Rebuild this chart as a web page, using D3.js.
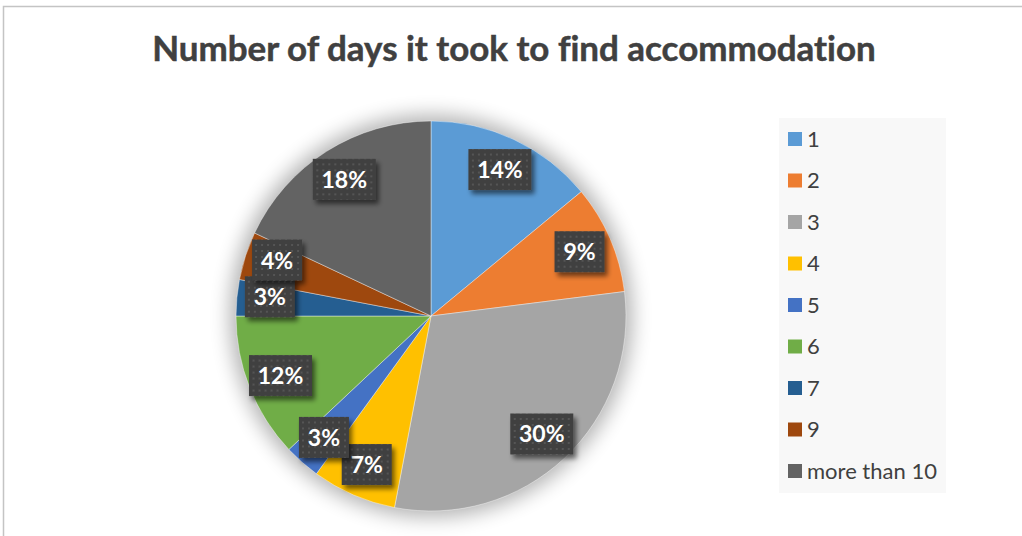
<!DOCTYPE html>
<html>
<head>
<meta charset="utf-8">
<script src="https://cdn.jsdelivr.net/npm/d3@7"></script>
<style>
  html, body { margin: 0; padding: 0; background: #fff; }
  svg { display: block; }
  text { font-variant-ligatures: none; font-feature-settings: "liga" 0; }
</style>
</head>
<body>
<div id="chart"></div>
<script>
// data
var categories = ["1", "2", "3", "4", "5", "6", "7", "9", "more than 10"];
var shares = [14, 9, 30, 7, 3, 12, 3, 4, 18];
var colors = ["#5B9BD5", "#ED7D31", "#A5A5A5", "#FFC000", "#4472C4", "#70AD47", "#255E91", "#9E480E", "#636363"];
var title = "Number of days it took to find accommodation";

var width = 1022, height = 536;
var cx = 431, cy = 316, radius = 195;

var svg = d3.select("#chart").append("svg")
  .attr("width", width)
  .attr("height", height);

var defs = svg.append("defs");

// soft glow behind the pie
var glow = defs.append("filter").attr("id", "glow")
  .attr("x", "-25%").attr("y", "-25%").attr("width", "150%").attr("height", "150%");
glow.append("feGaussianBlur").attr("stdDeviation", 10);

// drop shadow for the label boxes
var shadow = defs.append("filter").attr("id", "boxShadow")
  .attr("x", "-20%").attr("y", "-20%").attr("width", "150%").attr("height", "160%");
shadow.append("feGaussianBlur").attr("in", "SourceAlpha").attr("stdDeviation", 2.5).attr("result", "b");
shadow.append("feOffset").attr("in", "b").attr("dx", 3).attr("dy", 4).attr("result", "o");
shadow.append("feComponentTransfer").attr("in", "o").attr("result", "s")
  .append("feFuncA").attr("type", "linear").attr("slope", 0.55);
var merge = shadow.append("feMerge");
merge.append("feMergeNode").attr("in", "s");
merge.append("feMergeNode").attr("in", "SourceGraphic");

// dotted texture on the label boxes
var pat = defs.append("pattern").attr("id", "dots")
  .attr("width", 6).attr("height", 6).attr("patternUnits", "userSpaceOnUse");
pat.append("rect").attr("width", 6).attr("height", 6).attr("fill", "#404040");
pat.append("rect").attr("x", 2).attr("y", 2).attr("width", 2).attr("height", 2).attr("fill", "#555555");

// chart frame
svg.append("path")
  .attr("d", "M3.5," + height + "V6.5H" + width)
  .attr("fill", "none")
  .attr("stroke", "#c4c4c4")
  .attr("stroke-width", 1.5);

// title
var titleText = svg.append("text")
  .attr("x", 514)
  .attr("y", 61)
  .attr("text-anchor", "middle")
  .attr("font-family", "Lato, 'Open Sans', sans-serif")
  .attr("font-weight", "bold")
  .attr("font-size", 30)
  .attr("fill", "#404040")
  .attr("stroke", "#404040")
  .attr("stroke-width", 0.5)
  .text(title);
var tw = titleText.node().getComputedTextLength();
titleText.attr("font-size", 30 * 724 / tw);

// pie
var pie = d3.pie().sort(null).value(function (d) { return d; });
var arcs = pie(shares);
var arc = d3.arc().innerRadius(0).outerRadius(radius);
var labelArc = d3.arc().innerRadius(radius * 0.83).outerRadius(radius * 0.83);
var color = d3.scaleOrdinal().domain(categories).range(colors);

var g = svg.append("g").attr("transform", "translate(" + cx + "," + cy + ")");

g.append("circle")
  .attr("r", radius + 6)
  .attr("fill", "#000")
  .attr("opacity", 0.3)
  .attr("filter", "url(#glow)");

g.selectAll("path.slice")
  .data(arcs)
  .join("path")
  .attr("class", "slice")
  .attr("d", arc)
  .attr("fill", function (d, i) { return color(categories[i]); })
  .attr("stroke", "#ffffff")
  .attr("stroke-opacity", 0.5)
  .attr("stroke-width", 0.8);

// data labels
var labels = g.selectAll("g.lbl")
  .data(arcs)
  .join("g")
  .attr("class", "lbl")
  .attr("transform", function (d, i) {
    var c = labelArc.centroid(d);
    // Excel nudges the two crowded labels apart
    if (categories[i] === "9") c[1] -= 6;
    if (categories[i] === "7") c[1] -= 4;
    return "translate(" + c[0] + "," + c[1] + ")";
  });

labels.each(function (d) {
  var sel = d3.select(this);
  var txt = d.data + "%";
  var w = txt.length === 3 ? 63 : 50;
  var h = 41;
  sel.append("rect")
    .attr("x", -w / 2)
    .attr("y", -h / 2)
    .attr("width", w)
    .attr("height", h)
    .attr("fill", "url(#dots)")
    .attr("filter", "url(#boxShadow)");
  sel.append("text")
    .attr("text-anchor", "middle")
    .attr("dy", "0.37em")
    .attr("font-family", "Lato, 'Open Sans', sans-serif")
    .attr("font-weight", "bold")
    .attr("font-size", 23)
    .attr("fill", "#ffffff")
    .text(txt);
});

// legend
svg.append("rect")
  .attr("x", 779)
  .attr("y", 118)
  .attr("width", 167)
  .attr("height", 375)
  .attr("fill", "#f8f8f8");

var ly = d3.scalePoint().domain(categories).range([139, 471]);

var leg = svg.selectAll("g.leg")
  .data(categories)
  .join("g")
  .attr("class", "leg")
  .attr("transform", function (d) { return "translate(788," + ly(d) + ")"; });

leg.append("rect")
  .attr("x", 0)
  .attr("y", -7)
  .attr("width", 14)
  .attr("height", 14)
  .attr("fill", function (d) { return color(d); });

leg.append("text")
  .attr("x", 19)
  .attr("dy", "0.36em")
  .attr("font-family", "Lato, 'Open Sans', sans-serif")
  .attr("font-size", 22)
  .attr("fill", "#404040")
  .text(function (d) { return d; });
</script>
</body>
</html>
